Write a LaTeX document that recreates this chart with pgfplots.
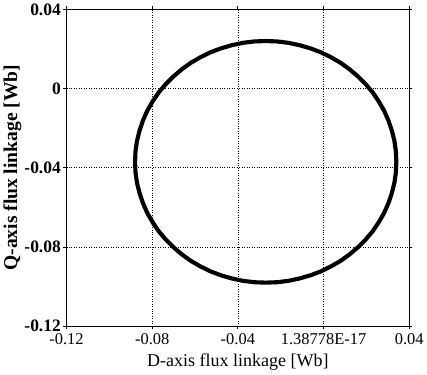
\documentclass[border=0pt]{standalone}
\usepackage{fontspec}
\setmainfont{Liberation Serif}
\usepackage{pgfplots}
\pgfplotsset{compat=1.18}
\begin{document}
\begin{tikzpicture}
\begin{axis}[
  scale only axis,
  width=332bp, height=307bp,
  xmin=-0.12, xmax=0.04, ymin=-0.12, ymax=0.04,
  xtick={-0.12,-0.08,-0.04,0,0.04},
  xticklabels={-0.12,-0.08,-0.04,1.38778E-17,0.04},
  ytick={-0.12,-0.08,-0.04,0,0.04},
  yticklabels={\textbf{-0.12},\textbf{-0.08},\textbf{-0.04},\textbf{0},\textbf{0.04}},
  xticklabel style={font=\fontsize{16}{18}\selectfont, yshift=-1pt},
  yticklabel style={font=\fontsize{17}{19}\selectfont, xshift=1pt},
  grid=major,
  major grid style={black, dotted, line width=0.7pt},
  axis line style={black, line width=1pt},
  tick style={black, line width=0.8pt},
  major tick length=3pt,
  tick align=outside,
  xlabel={D-axis flux linkage [Wb]},
  ylabel={\textbf{Q-axis flux linkage [Wb]}},
  xlabel style={font=\fontsize{17.5}{19}\selectfont, yshift=-2pt},
  ylabel style={font=\fontsize{19}{21}\selectfont, yshift=-4pt},
]
\addplot[black, line width=4bp, line join=round] coordinates {
(0.0340,-0.0370) (0.0338,-0.0317) (0.0331,-0.0264) (0.0319,-0.0212) (0.0303,-0.0161)
(0.0283,-0.0112) (0.0258,-0.0065) (0.0230,-0.0020) (0.0197,0.0022) (0.0161,0.0061)
(0.0122,0.0097) (0.0080,0.0130) (0.0035,0.0158) (-0.0012,0.0183) (-0.0061,0.0203)
(-0.0112,0.0219) (-0.0164,0.0231) (-0.0217,0.0238) (-0.0270,0.0240) (-0.0323,0.0238)
(-0.0376,0.0231) (-0.0428,0.0219) (-0.0479,0.0203) (-0.0528,0.0183) (-0.0575,0.0158)
(-0.0620,0.0130) (-0.0662,0.0097) (-0.0701,0.0061) (-0.0737,0.0022) (-0.0770,-0.0020)
(-0.0798,-0.0065) (-0.0823,-0.0112) (-0.0843,-0.0161) (-0.0859,-0.0212) (-0.0871,-0.0264)
(-0.0878,-0.0317) (-0.0880,-0.0370) (-0.0878,-0.0423) (-0.0871,-0.0476) (-0.0859,-0.0528)
(-0.0843,-0.0579) (-0.0823,-0.0628) (-0.0798,-0.0675) (-0.0770,-0.0720) (-0.0737,-0.0762)
(-0.0701,-0.0801) (-0.0662,-0.0837) (-0.0620,-0.0870) (-0.0575,-0.0898) (-0.0528,-0.0923)
(-0.0479,-0.0943) (-0.0428,-0.0959) (-0.0376,-0.0971) (-0.0323,-0.0978) (-0.0270,-0.0980)
(-0.0217,-0.0978) (-0.0164,-0.0971) (-0.0112,-0.0959) (-0.0061,-0.0943) (-0.0012,-0.0923)
(0.0035,-0.0898) (0.0080,-0.0870) (0.0122,-0.0837) (0.0161,-0.0801) (0.0197,-0.0762)
(0.0230,-0.0720) (0.0258,-0.0675) (0.0283,-0.0628) (0.0303,-0.0579) (0.0319,-0.0528)
(0.0331,-0.0476) (0.0338,-0.0423) (0.0340,-0.0370)
};
\end{axis}
\end{tikzpicture}
\end{document}
